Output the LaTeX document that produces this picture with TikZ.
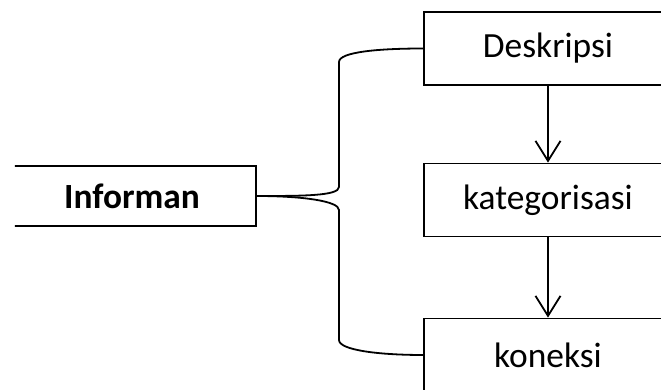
\documentclass[tikz,border=0pt]{standalone}
\usepackage{fontspec}
\setmainfont{Carlito}
\usetikzlibrary{arrows.meta}
\begin{document}
\begin{tikzpicture}[x=0.5pt, y=-0.5pt, line width=0.9pt,
	every node/.style={font=\fontsize{17.7pt}{20pt}\selectfont},
	stage/.style={draw, minimum width=124pt, minimum height=36.5pt, inner sep=0pt},
	source/.style={draw, minimum width=124pt, minimum height=30pt, inner sep=0pt, font=\fontsize{17.7pt}{20pt}\selectfont\bfseries},
	flow/.style={-{Straight Barb[length=10pt, width=12.5pt]}}]
\useasboundingbox (0,0) rectangle (661,390);
\clip (15,0) rectangle (661,390);
\node[source](Informan) at (132,196){Informan};
\node[stage](Deskripsi) at (548,48.5){Deskripsi};
\node[stage](kategorisasi) at (548,200){kategorisasi};
\node[stage](koneksi) at (548,355){koneksi};
\draw[flow] (Deskripsi) -- (kategorisasi);
\draw[flow] (kategorisasi) -- (koneksi);
\draw (Deskripsi.west) .. controls +(-45,0) and +(0,-10) .. (339,62) -- (339,187) .. controls +(0,9) and +(45,0) .. (Informan.east);
\draw (Informan.east) .. controls +(45,0) and +(0,-9) .. (339,210) -- (339,340) .. controls +(0,10) and +(-45,0) .. (koneksi.west);
\end{tikzpicture}
\end{document}
